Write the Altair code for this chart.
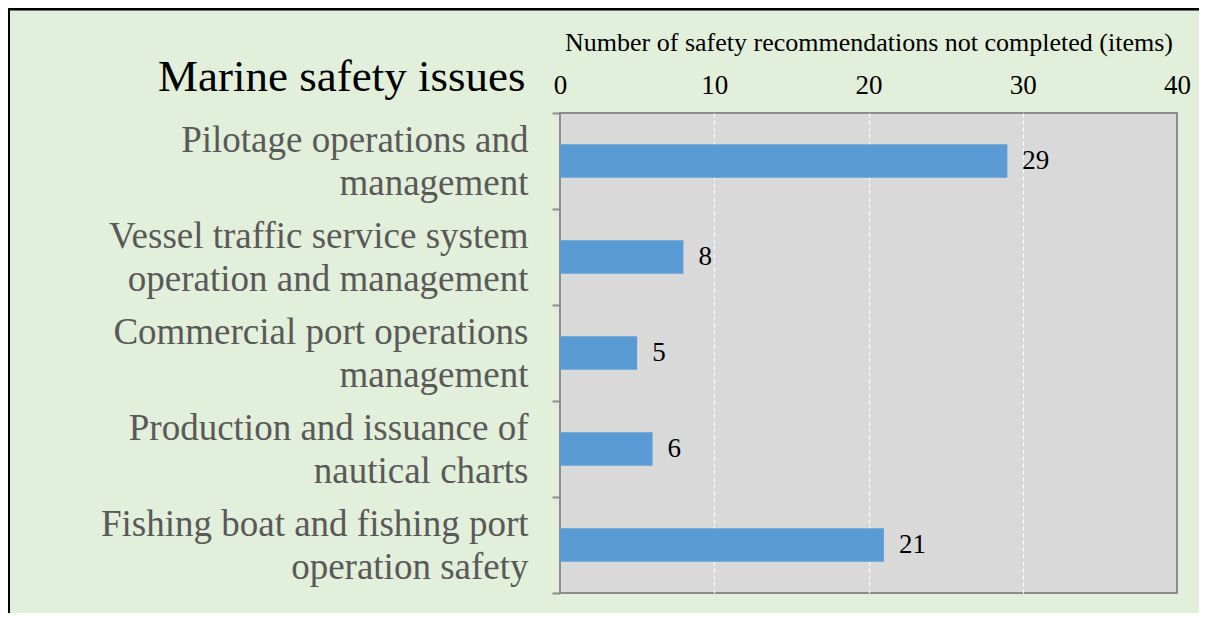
import altair as alt
import pandas as pd

categories = [
    "Pilotage operations and\nmanagement",
    "Vessel traffic service system\noperation and management",
    "Commercial port operations\nmanagement",
    "Production and issuance of\nnautical charts",
    "Fishing boat and fishing port\noperation safety",
]
values = [29, 8, 5, 6, 21]
x_ticks = [0, 10, 20, 30, 40]

df = pd.DataFrame({"cat": categories, "val": values})
FONT = "Liberation Serif"

base = alt.Chart(df)

y_enc = alt.Y(
    "cat:N",
    sort=categories,
    scale=alt.Scale(paddingInner=0, paddingOuter=0),
    axis=alt.Axis(
        title="Marine safety issues",
        titleAngle=0,
        titleAlign="right",
        titleBaseline="alphabetic",
        titleX=-35,
        titleY=-23,
        titleFont=FONT,
        titleFontSize=45,
        titleFontWeight="normal",
        titleColor="black",
        labelExpr="split(datum.label, '\\n')",
        labelFont=FONT,
        labelFontSize=37,
        labelLineHeight=43,
        labelColor="#595959",
        labelLimit=700,
        labelPadding=24,
        labelOffset=-21,
        labelAlign="right",
        labelBaseline="middle",
        tickBand="extent",
        tickSize=8,
        tickColor="#8c8c8c",
        tickWidth=2,
        domain=False,
        grid=False,
    ),
)

x_enc = alt.X(
    "val:Q",
    scale=alt.Scale(domain=[0, 40], nice=False),
    axis=alt.Axis(
        orient="top",
        values=x_ticks,
        title="Number of safety recommendations not completed (items)",
        titleFont=FONT,
        titleFontSize=26,
        titleFontWeight="normal",
        titleColor="black",
        titlePadding=16,
        labelFont=FONT,
        labelFontSize=27,
        labelColor="black",
        labelPadding=14,
        labelFlush=False,
        ticks=False,
        domain=False,
        grid=True,
        gridColor="white",
        gridDash=[4, 3],
        gridWidth=1,
        gridOpacity=alt.expr("datum.value > 0 && datum.value < 40 ? 1 : 0"),
    ),
)

frame_df = pd.DataFrame({"f": [0]})
frame_left = alt.Chart(frame_df).mark_rule(color="black", strokeWidth=3).encode(
    x=alt.value(-551.5), y=alt.value(-105.5), y2=alt.value(700)
)
frame_top = alt.Chart(frame_df).mark_rule(color="black", strokeWidth=3).encode(
    x=alt.value(-553), x2=alt.value(900), y=alt.value(-104)
)

bars = base.mark_bar(color="#5B9BD5", height=alt.RelativeBandSize(band=0.35)).encode(
    x=x_enc, y=y_enc
)

labels = base.mark_text(
    align="left", baseline="middle", dx=15, font=FONT, fontSize=27, color="black"
).encode(x="val:Q", y=alt.Y("cat:N", sort=categories), text="val:Q")

chart = alt.layer(frame_left, frame_top, bars, labels).properties(
    width=617,
    height=480,
    background="#E2EFDA",
    padding={"left": 552, "top": 105, "right": 22, "bottom": 20},
    autosize=alt.AutoSizeParams(type="none"),
).configure_view(
    fill="#D9D9D9", stroke="#8c8c8c", strokeWidth=2
)

chart.save("out.html", embed_options={"renderer": "svg", "actions": False})
